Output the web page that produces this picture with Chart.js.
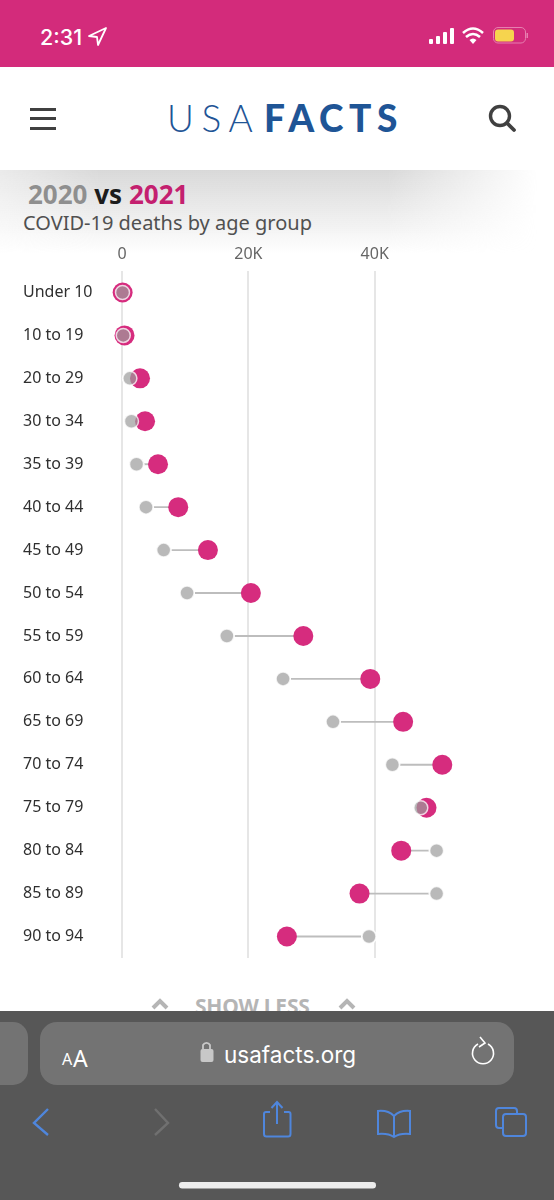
<!DOCTYPE html>
<html><head><meta charset="utf-8">
<script src="https://cdn.jsdelivr.net/npm/chart.js@4/dist/chart.umd.min.js"></script>
<style>
html,body{margin:0;padding:0;background:#fff;width:554px;height:1200px;overflow:hidden;font-family:"Noto Sans",sans-serif}
.a{position:absolute;white-space:nowrap;line-height:1}
svg{position:absolute;overflow:visible}
</style></head><body>
<div class="a" style="left:0;top:0;width:554px;height:67px;background:#d32b7b"></div>
<div class="a" style="left:40px;top:24px;font:500 21.5px Inter,'Noto Sans',sans-serif;color:#fff">2:31</div>
<svg style="left:0;top:0" width="554" height="67">
<path d="M106 28 L89 36 L97 37 L98 45 Z" fill="none" stroke="#fff" stroke-width="1.8" stroke-linejoin="round"/>
<g fill="#fff"><rect x="429" y="39" width="4" height="5" rx="1"/><rect x="436" y="36" width="4" height="8" rx="1"/><rect x="443" y="32" width="4" height="12" rx="1"/><rect x="450" y="28" width="4" height="16" rx="1"/></g>
<path d="M463 33 Q473 24 483 33 M466 37 Q473 31 480 37" fill="none" stroke="#fff" stroke-width="2.6"/><path d="M469.5 40 Q473 37 476.5 40 L473 44Z" fill="#fff"/>
<rect x="493.5" y="27.5" width="32" height="15.5" rx="4.5" fill="none" stroke="#e77fb0" stroke-width="1"/><rect x="495" y="29.5" width="19" height="12" rx="3" fill="#f6d44e"/><rect x="526.5" y="33" width="1.5" height="5" fill="#e77fb0"/>
</svg>
<svg style="left:0;top:67px" width="554" height="103">
<g fill="#404040"><rect x="30" y="41" width="26" height="3"/><rect x="30" y="50" width="26" height="3"/><rect x="30" y="60" width="26" height="3"/></g>
<circle cx="500" cy="49" r="9.5" fill="none" stroke="#404040" stroke-width="3.4"/><path d="M507 56 L514 63" stroke="#404040" stroke-width="3.8" stroke-linecap="round"/>
</svg>
<div class="a" style="left:167px;top:95px;font:300 37px Lato,sans-serif;letter-spacing:7.6px;color:#1f5596">USA</div>
<div class="a" style="left:264px;top:95px;font:900 37px Lato,sans-serif;letter-spacing:5.6px;color:#1f5596">FACTS</div>
<div class="a" style="left:0;top:170px;width:554px;height:85px;background:linear-gradient(#d9d9d9,rgba(255,255,255,0));-webkit-mask-image:linear-gradient(to right,rgba(0,0,0,.55),#000 18%,#000 70%,transparent 97%)"></div>
<div class="a" style="left:28px;top:176px;font:700 26px 'Noto Sans',sans-serif;color:#8f8f8f">2020 <span style="color:#1c1c1c">vs</span> <span style="color:#c4206f">2021</span></div>
<div class="a" style="left:23px;top:209px;font:400 20px 'Noto Sans',sans-serif;color:#505050">COVID-19 deaths by age group</div>

<div class="a" style="left:0;top:241px;width:554px;height:727px"><canvas id="c" width="554" height="727" style="display:block;width:554px;height:727px"></canvas></div>

<div class="a" style="left:195px;top:992px;font:700 21px 'Noto Sans',sans-serif;color:#b5b5b5;letter-spacing:-.2px">SHOW LESS</div>
<svg style="left:0;top:990px" width="554" height="30"><path d="M153 18 L160 11 L167 18 M340 18 L347 11 L354 18" fill="none" stroke="#b5b5b5" stroke-width="4"/></svg>
<div class="a" style="left:0;top:1011px;width:554px;height:189px;background:#575757"></div>
<div class="a" style="left:-20px;top:1022px;width:48px;height:63px;border-radius:15px;background:#737373"></div>
<div class="a" style="left:40px;top:1022px;width:474px;height:63px;border-radius:17px;background:#737373"></div>
<div class="a" style="left:62px;top:1048px;font:400 16px 'Noto Sans',sans-serif;color:#fff">A</div>
<div class="a" style="left:73px;top:1042px;font:400 23px 'Noto Sans',sans-serif;color:#fff">A</div>
<div class="a" style="left:224px;top:1041px;font:400 22.5px Inter,'Noto Sans',sans-serif;color:#fff">usafacts.org</div>
<svg style="left:0;top:1011px" width="554" height="189">
<path d="M203 38 V34 a4 4 0 0 1 7 0 V38" fill="none" stroke="#c8c8c8" stroke-width="1.8"/><rect x="200.500" y="38" width="13" height="13" rx="2" fill="#c8c8c8"/>
<path d="M478 33 a10.5 10.500 0 1 0 10 0 M480 26 L485 32 L479 36" fill="none" stroke="#fff" stroke-width="1.600"/>
<g fill="none" stroke="#4f86dc" stroke-width="2">
<path d="M48 98 L34 112 L48 124" stroke-width="2.400"/>
<path d="M264 103 V123 a2.500 2.500 0 0 0 2.500 2.500 H288 a2.500 2.500 0 0 0 2.500 -2.500 V103 a2 2 0 0 0 -2 -2 H284 M270 101 H266 a2 2 0 0 0 -2 2 M277 113 V92 M271.500 97 L277 91 L282.500 97"/>
<path d="M394 105 Q388 99 378 100 V123 Q388 122 394 126 Q400 122 410 123 V100 Q400 99 394 105 V126"/>
<path d="M503 117 H499 a3 3 0 0 1 -3 -3 V100 a3 3 0 0 1 3 -3 H514 a3 3 0 0 1 3 3 V103"/><rect x="503" y="103" width="23" height="22" rx="3"/>
</g>
<path d="M155 98 L168 112 L155 124" fill="none" stroke="#707070" stroke-width="2.400"/>
<rect x="179" y="171" width="197" height="6.500" rx="3.200" fill="#ececec"/>
</svg>
<script>
const categories=["Under 10","10 to 19","20 to 29","30 to 34","35 to 39","40 to 44","45 to 49","50 to 54","55 to 59","60 to 64","65 to 69","70 to 74","75 to 79","80 to 84","85 to 89","90 to 94"];
const deaths2020=[0.08,0.2,1.25,1.5,2.3,3.8,6.6,10.3,16.6,25.5,33.4,42.8,47.3,49.8,49.8,39.1];
const deaths2021=[0.1,0.4,2.85,3.65,5.7,8.9,13.6,20.4,28.7,39.3,44.5,50.7,48.2,44.2,37.6,26.1];
const xTicks=[0,20,40];
const connectors=deaths2020.map((v,i)=>[v,deaths2021[i]]);
new Chart(document.getElementById('c'),{
 type:'bar',
 data:{labels:categories,datasets:[
  {type:'bar',label:'change',data:connectors,backgroundColor:'#bdbdbd',barThickness:1.25,order:4},
  {type:'line',label:'2020 halo',data:deaths2020,showLine:false,pointRadius:8,pointBackgroundColor:'#fff',pointBorderWidth:0,clip:false,order:3},
  {type:'line',label:'2021',data:deaths2021,showLine:false,pointRadius:10,pointBackgroundColor:'#d62c7e',pointBorderWidth:0,clip:false,order:2},
  {type:'line',label:'2020',data:deaths2020,showLine:false,pointRadius:7,pointBackgroundColor:'rgba(155,155,155,.7)',pointBorderColor:'rgba(255,255,255,.75)',pointBorderWidth:1.5,clip:false,order:1}
 ]},
 options:{
  indexAxis:'y',responsive:false,animation:false,devicePixelRatio:1,
  layout:{padding:{left:23,right:0,top:0,bottom:4}},
  plugins:{legend:{display:false},tooltip:{enabled:false},title:{display:false}},
  scales:{
   x:{type:'linear',position:'top',min:0,max:66.8,
    afterBuildTicks(a){a.ticks=xTicks.map(v=>({value:v}))},
    afterFit(a){a.height=30},
    border:{display:false},
    grid:{color:'#e6e6e6',lineWidth:2,drawTicks:false},
    ticks:{padding:7,color:'#666',font:{family:'"Noto Sans"',size:16},callback:v=>v===0?'0':v+'K',maxRotation:0}},
   y:{type:'category',offset:true,
    afterFit(a){a.width=99},
    border:{display:false},grid:{display:false,drawTicks:false},
    ticks:{crossAlign:'far',padding:0,color:'#2f2f2f',font:{family:'"Noto Sans"',size:16}}}
  }
 }
});
</script>
</body></html>
